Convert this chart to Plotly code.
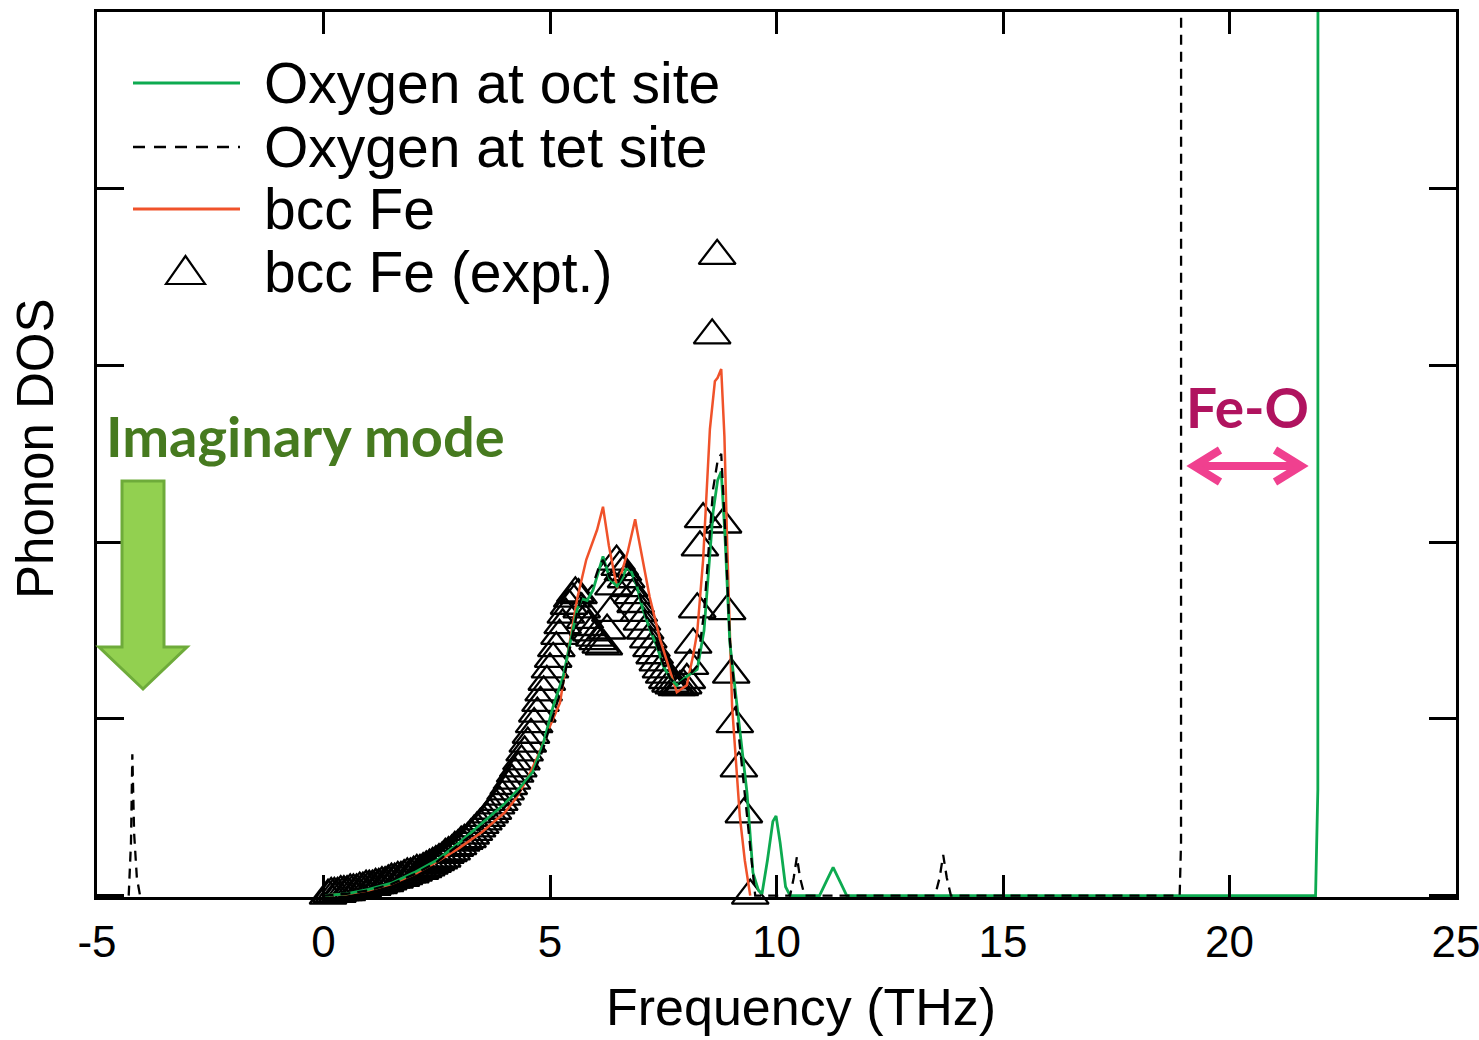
import plotly.graph_objects as go

# ---------------- data ----------------
# Oxygen at octahedral site (calculated)
oct_x = [0.0, 0.5, 1.0, 1.5, 2.0, 2.5, 3.0, 3.5, 4.0, 4.3, 4.62, 4.85, 5.07, 5.29, 5.44, 5.6, 5.7,
         5.82, 5.95, 6.08, 6.17, 6.32, 6.48, 6.6, 6.7, 6.8, 6.92, 7.05, 7.2, 7.36, 7.5, 7.65, 7.8,
         8.02, 8.25, 8.4, 8.5, 8.6, 8.7, 8.78, 8.86, 8.97, 9.13, 9.35, 9.48, 9.6, 9.68, 9.8, 9.92,
         9.99, 10.08, 10.2, 10.3, 10.95, 11.1, 11.25, 11.4, 11.55, 21.9, 21.95, 21.98]
oct_y = [0.0, 0.01, 0.035, 0.07, 0.13, 0.2, 0.3, 0.41, 0.52, 0.6, 0.7, 0.86, 1.07, 1.24, 1.43, 1.62, 1.68,
         1.67, 1.73, 1.85, 1.92, 1.79, 1.75, 1.8, 1.86, 1.83, 1.75, 1.62, 1.51, 1.41, 1.3, 1.23, 1.19,
         1.24, 1.28, 1.5, 1.85, 2.17, 2.35, 2.4, 2.05, 1.43, 1.07, 0.58, 0.13, 0.03, 0.01, 0.2, 0.42,
         0.45, 0.3, 0.05, 0.0, 0.0, 0.08, 0.16, 0.08, 0.0, 0.0, 0.6, 60.0]

# Oxygen at tetrahedral site (calculated); None = gap in the curve
tet_x = [-4.3, -4.25, -4.22, -4.18, -4.12, -4.05, None, 0.0, 0.5, 1.0, 1.5, 2.0, 2.5, 3.0, 3.5, 4.0, 4.3,
         4.62, 4.85, 5.07, 5.29, 5.44, 5.6, 5.7, 5.82, 5.95, 6.08, 6.17, 6.32, 6.48, 6.6, 6.7, 6.8,
         6.92, 7.05, 7.2, 7.36, 7.5, 7.65, 7.8, 8.02, 8.25, 8.4, 8.5, 8.6, 8.7, 8.78, 8.86, 8.97,
         9.13, 9.35, 9.53, 10.3, 10.38, 10.45, 10.52, 10.62, 13.5, 13.6, 13.68, 13.76, 13.85,
         18.9, 18.93, 18.95]
tet_y = [0.0, 0.3, 0.8, 0.35, 0.1, 0.0, None, 0.0, 0.01, 0.03, 0.065, 0.12, 0.19, 0.29, 0.39, 0.5, 0.58,
         0.68, 0.83, 1.02, 1.2, 1.4, 1.6, 1.7, 1.72, 1.76, 1.86, 1.9, 1.8, 1.76, 1.82, 1.87, 1.84,
         1.76, 1.64, 1.52, 1.42, 1.31, 1.23, 1.19, 1.23, 1.3, 1.6, 1.95, 2.3, 2.46, 2.5, 2.1, 1.45,
         1.0, 0.45, 0.0, 0.0, 0.1, 0.22, 0.1, 0.0, 0.0, 0.1, 0.23, 0.1, 0.0,
         0.0, 0.3, 60.0]

# bcc Fe (calculated)
fe_x = [0.0, 0.5, 1.0, 1.5, 2.0, 2.5, 3.0, 3.5, 4.0, 4.25, 4.5, 4.75, 5.0, 5.22, 5.4, 5.6, 5.8, 6.04,
        6.17, 6.3, 6.48, 6.6, 6.72, 6.88, 6.92, 7.2, 7.43, 7.65, 7.8, 8.02, 8.16, 8.25, 8.38, 8.53,
        8.64, 8.7, 8.78, 8.85, 8.91, 9.02, 9.19, 9.3, 9.42]
fe_y = [0.0, 0.008, 0.03, 0.065, 0.12, 0.19, 0.27, 0.36, 0.47, 0.55, 0.66, 0.8, 0.96, 1.09, 1.38, 1.68,
        1.9, 2.07, 2.2, 1.98, 1.74, 1.85, 1.95, 2.13, 2.07, 1.69, 1.45, 1.27, 1.15, 1.19, 1.36, 1.49, 1.9,
        2.64, 2.91, 2.93, 2.98, 2.6, 2.0, 1.07, 0.45, 0.2, 0.0]

# bcc Fe (experiment)
expt_x = [0.10, 0.17, 0.24, 0.31, 0.38, 0.45, 0.52, 0.59, 0.66, 0.73, 0.80, 0.87, 0.94, 1.01, 1.08,
          1.15, 1.22, 1.29, 1.36, 1.43, 1.50, 1.57, 1.64, 1.71, 1.78, 1.85, 1.92, 1.99, 2.06, 2.13,
          2.20, 2.27, 2.34, 2.41, 2.48, 2.55, 2.62, 2.69, 2.76, 2.83, 2.90, 2.97, 3.04, 3.11, 3.18,
          3.25, 3.32, 3.39, 3.46, 3.53, 3.60, 3.67, 3.74, 3.81, 3.88, 3.95, 4.02, 4.09, 4.16, 4.23,
          4.30, 4.37, 4.44, 4.51, 4.58, 4.65, 4.72, 4.79, 4.86, 4.93, 5.00, 5.07, 5.14, 5.21, 5.28,
          5.35, 5.42, 5.49, 5.56, 5.63, 5.70, 5.77, 5.84, 5.91, 5.98, 6.05, 6.12, 6.19, 6.26, 6.33,
          6.40, 6.47, 6.54, 6.61, 6.68, 6.75, 6.82, 6.89, 6.96, 7.03, 7.10, 7.17, 7.24, 7.31, 7.38,
          7.45, 7.52, 7.59, 7.66, 7.73, 7.80, 7.87, 7.94, 8.02, 8.09, 8.16, 8.25, 8.31, 8.38, 8.58,
          8.69, 8.82, 8.91, 9.00, 9.08, 9.17, 9.28, 9.42]
expt_y = [0.00, 0.01, 0.01, 0.01, 0.02, 0.02, 0.02, 0.03, 0.03, 0.03, 0.04, 0.04, 0.05, 0.05, 0.05,
          0.06, 0.06, 0.07, 0.07, 0.08, 0.09, 0.09, 0.10, 0.10, 0.11, 0.12, 0.12, 0.13, 0.14, 0.14,
          0.15, 0.16, 0.17, 0.18, 0.19, 0.20, 0.21, 0.23, 0.24, 0.25, 0.27, 0.28, 0.30, 0.31, 0.32,
          0.34, 0.36, 0.38, 0.40, 0.42, 0.44, 0.46, 0.48, 0.51, 0.53, 0.56, 0.59, 0.62, 0.65, 0.69,
          0.72, 0.76, 0.81, 0.86, 0.91, 0.97, 1.03, 1.09, 1.15, 1.21, 1.28, 1.34, 1.40, 1.47, 1.53,
          1.59, 1.64, 1.68, 1.71, 1.70, 1.62, 1.56, 1.52, 1.49, 1.46, 1.44, 1.42, 1.41, 1.50, 1.60,
          1.75, 1.89, 1.86, 1.83, 1.79, 1.74, 1.70, 1.65, 1.60, 1.55, 1.50, 1.45, 1.40, 1.36, 1.32,
          1.28, 1.25, 1.22, 1.20, 1.19, 1.18, 1.18, 1.19, 1.22, 1.30, 1.42, 1.62, 1.97, 2.13, 3.17,
          3.62, 2.10, 1.61, 1.25, 0.97, 0.72, 0.46, 0.00]

x_tick_vals = [-5, 0, 5, 10, 15, 20, 25]
x_tick_text = ["-5", "0", "5", "10", "15", "20", "25"]
series_names = ["Oxygen at oct site", "Oxygen at tet site", "bcc Fe", "bcc Fe (expt.)"]
x_title = "Frequency (THz)"
y_title = "Phonon DOS"

# ---------------- styling ----------------
GREEN = "#0DAA50"
RED = "#F0522A"
BLACK = "#000000"
FONT = "Liberation Sans, Arial, sans-serif"

W, H = 1479, 1040
ML, MR, MT, MB = 97, 23, 12, 143
PW, PH = W - ML - MR, H - MT - MB


def px(x):
    return (x - ML) / PW


def py(y):
    return (H - MB - y) / PH


def path(points, close=False):
    s = "M " + " L ".join(f"{px(a):.5f},{py(b):.5f}" for a, b in points)
    return s + (" Z" if close else "")


fig = go.Figure()

fig.add_trace(go.Scatter(x=expt_x, y=expt_y, mode="markers", name=series_names[3],
                         marker=dict(symbol="triangle-up-open", size=32, color=BLACK,
                                     line=dict(width=2.3, color=BLACK)),
                         cliponaxis=False, showlegend=False))
fig.add_trace(go.Scatter(x=fe_x, y=fe_y, mode="lines", name=series_names[2],
                         line=dict(color=RED, width=2.5), showlegend=False))
fig.add_trace(go.Scatter(x=oct_x, y=oct_y, mode="lines", name=series_names[0],
                         line=dict(color=GREEN, width=2.8), showlegend=False))
fig.add_trace(go.Scatter(x=tet_x, y=tet_y, mode="lines", name=series_names[1],
                         line=dict(color=BLACK, width=2.3, dash="10px,7px"), showlegend=False))

shapes = []
annotations = []

# custom legend
leg_rows = [83, 147, 209, 272]
shapes.append(dict(type="line", xref="paper", yref="paper", x0=px(133), x1=px(240),
                   y0=py(leg_rows[0]), y1=py(leg_rows[0]), line=dict(color=GREEN, width=3)))
shapes.append(dict(type="line", xref="paper", yref="paper", x0=px(133), x1=px(240),
                   y0=py(leg_rows[1]), y1=py(leg_rows[1]),
                   line=dict(color=BLACK, width=2.3, dash="12px,9px")))
shapes.append(dict(type="line", xref="paper", yref="paper", x0=px(133), x1=px(240),
                   y0=py(leg_rows[2]), y1=py(leg_rows[2]), line=dict(color=RED, width=3)))
shapes.append(dict(type="path", xref="paper", yref="paper",
                   path=path([(166, 284), (205, 284), (185.5, 256)], close=True),
                   line=dict(color=BLACK, width=2.2)))
for name, row in zip(series_names, leg_rows):
    annotations.append(dict(text=name, xref="paper", yref="paper", x=px(262), y=py(row),
                            xanchor="left", yanchor="middle", showarrow=False,
                            font=dict(family=FONT, size=57, color=BLACK)))

# axis titles
annotations.append(dict(text=x_title, xref="paper", yref="paper", x=px(801), y=py(1037),
                        xanchor="center", yanchor="bottom", showarrow=False, borderpad=0,
                        font=dict(family=FONT, size=52, color=BLACK)))
annotations.append(dict(text=y_title, xref="paper", yref="paper", x=px(35), y=py(449),
                        xanchor="center", yanchor="middle", showarrow=False, textangle=-90,
                        font=dict(family=FONT, size=51, color=BLACK)))

# Imaginary mode label and block arrow
annotations.append(dict(text="<b>Imaginary mode</b>", xref="paper", yref="paper",
                        x=px(305), y=py(436), xanchor="center", yanchor="middle", showarrow=False,
                        font=dict(family="Lato, Open Sans, sans-serif", size=56, color="#467A1F")))
shapes.append(dict(type="path", xref="paper", yref="paper",
                   path=path([(122, 481), (164, 481), (164, 647), (187, 647), (143, 689),
                              (99, 647), (122, 647)], close=True),
                   fillcolor="#92D050", line=dict(color="#6EAB3A", width=3), layer="above"))

# Fe-O label and double arrow
annotations.append(dict(text="<b>Fe-O</b>", xref="paper", yref="paper",
                        x=px(1247), y=py(407), xanchor="center", yanchor="middle", showarrow=False,
                        font=dict(family="Lato, Open Sans, sans-serif", size=55, color="#B0135F")))
PINK = "#F0408F"
shapes.append(dict(type="line", xref="paper", yref="paper", x0=px(1195), x1=px(1300),
                   y0=py(466), y1=py(466), line=dict(color=PINK, width=8)))
shapes.append(dict(type="path", xref="paper", yref="paper",
                   path=path([(1220, 450), (1194, 466), (1220, 482)]), line=dict(color=PINK, width=8)))
shapes.append(dict(type="path", xref="paper", yref="paper",
                   path=path([(1275, 450), (1301, 466), (1275, 482)]), line=dict(color=PINK, width=8)))

axis_common = dict(showline=True, linecolor=BLACK, linewidth=3, mirror="ticks",
                   ticks="inside", tickcolor=BLACK, tickwidth=3, showgrid=False, zeroline=False,
                   automargin=False)

fig.update_layout(
    width=W, height=H,
    margin=dict(l=ML, r=MR, t=MT, b=MB),
    paper_bgcolor="white", plot_bgcolor="white",
    showlegend=False,
    shapes=shapes, annotations=annotations,
    xaxis=dict(range=[-5, 25], tickmode="array", tickvals=x_tick_vals, ticktext=x_tick_text,
               ticklen=22, ticklabelstandoff=4, ticklabeloverflow="allow",
               tickfont=dict(family=FONT, size=44, color=BLACK),
               **axis_common),
    yaxis=dict(range=[-0.008, 5], dtick=1, tick0=0, ticklen=27, showticklabels=False,
               **axis_common),
)

fig.write_html("out.html")
